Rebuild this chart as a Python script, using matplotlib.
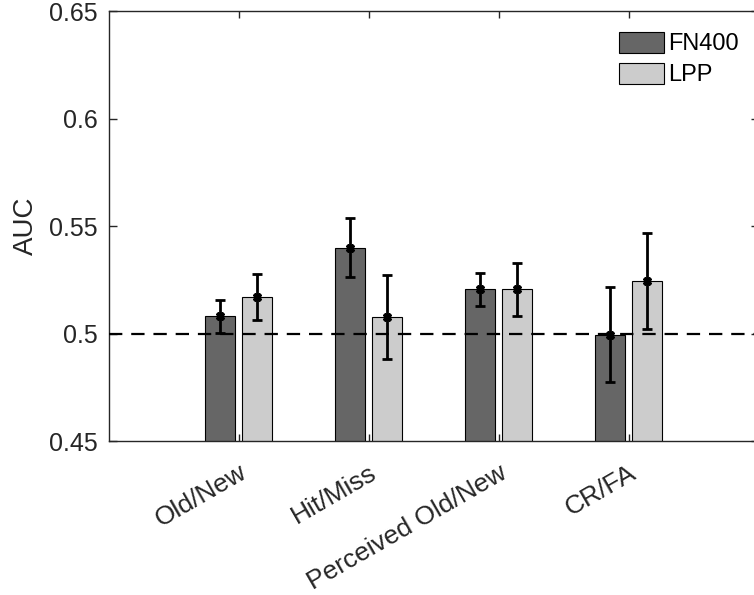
import numpy as np
import matplotlib
matplotlib.use("Agg")
import matplotlib.pyplot as plt

plt.rcParams['font.family'] = ['Liberation Sans', 'DejaVu Sans']

# AUC per condition, mean and error for each component
conditions = ['Old/New', 'Hit/Miss', 'Perceived Old/New', 'CR/FA']
fn400_auc = [0.508, 0.540, 0.5205, 0.4995]
fn400_err = [0.0078, 0.0135, 0.0078, 0.0220]
lpp_auc = [0.517, 0.5075, 0.5205, 0.5245]
lpp_err = [0.0105, 0.0195, 0.0125, 0.0222]
series = ['FN400', 'LPP']

x = np.arange(1, len(conditions) + 1)
bw = 0.228
off = 0.143

fig = plt.figure(figsize=(7.54, 5.95), dpi=100)
ax = fig.add_axes([0.1442, 0.2588, 0.862, 0.7227])

ax.bar(x - off, fn400_auc, bw, color='#666666', edgecolor='black', linewidth=0.8,
       label=series[0], zorder=2)
ax.bar(x + off, lpp_auc, bw, color='#cccccc', edgecolor='black', linewidth=0.8,
       label=series[1], zorder=2)

for xs, m, e in [(x - off, fn400_auc, fn400_err), (x + off, lpp_auc, lpp_err)]:
    ax.errorbar(xs, m, yerr=e, fmt='none', ecolor='black', elinewidth=2,
                capsize=3.5, capthick=2, zorder=4)
    ax.plot(xs, m, linestyle='none', marker='X', color='black', markersize=6,
            zorder=5)

ax.axhline(0.5, color='black', linestyle=(0, (6, 4)), linewidth=1.6, zorder=3)

ax.set_xlim(0, 5)
ax.set_ylim(0.45, 0.65)
ax.set_yticks([0.45, 0.5, 0.55, 0.6, 0.65])
ax.set_yticklabels(['0.45', '0.5', '0.55', '0.6', '0.65'])
ax.set_xticks(x)
ax.set_xticklabels([''] * len(x))

# rotated category labels, anchored at their upper-right corner below each tick
for xi, name in zip(x, conditions):
    ax.annotate(name, xy=(xi, 0), xycoords=('data', 'axes fraction'),
                xytext=(0, -14), textcoords='offset points',
                rotation=30, ha='right', va='top', rotation_mode='anchor',
                fontsize=19, color='#262626', annotation_clip=False)

ax.tick_params(direction='in', length=6, width=1, colors='#262626',
               labelsize=18, top=True, right=True, pad=8)
ax.tick_params(axis='x', length=5)
for s in ax.spines.values():
    s.set_color('#262626')
    s.set_linewidth(1)
ax.set_ylabel('AUC', fontsize=20, color='#262626', labelpad=7)

ax.legend(loc='upper right', bbox_to_anchor=(0.995, 0.99), frameon=False,
          fontsize=17, handlelength=1.9, handleheight=1.0, handletextpad=0.2,
          labelspacing=0.3, borderpad=0.2)

fig.savefig('out.png', dpi=100)
